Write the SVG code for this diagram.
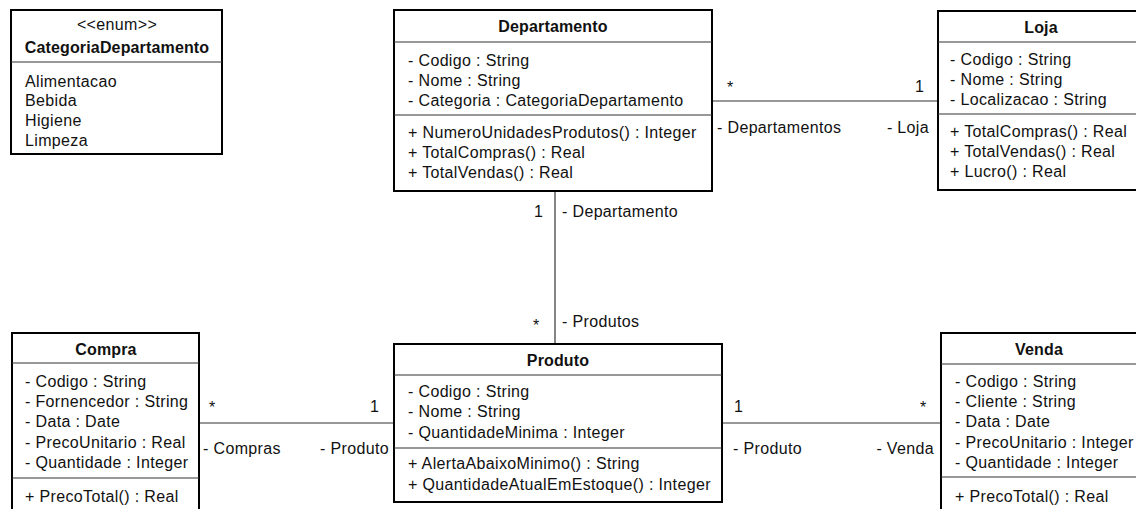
<svg xmlns="http://www.w3.org/2000/svg" width="1136" height="509" viewBox="0 0 1136 509">
  <style>
    text { font-family: "Liberation Sans", Arial, sans-serif; font-size: 16px; letter-spacing: 0.35px; fill: #111; }
    .title { font-weight: bold; text-anchor: middle; letter-spacing: 0.15px; }
    .stereo { text-anchor: middle; }
    .end { text-anchor: end; }
    .box { fill: #fff; stroke: #000; stroke-width: 2; }
    .div { stroke: #333; stroke-width: 1.2; }
    .conn line { stroke: #333; stroke-width: 1.2; }
  </style>

  <!-- associations -->
  <g id="connectors" class="conn">
    <line x1="713" y1="101" x2="937" y2="101"/>
    <line x1="555" y1="192" x2="555" y2="343"/>
    <line x1="200" y1="423" x2="393" y2="423"/>
    <line x1="723" y1="423" x2="940" y2="423"/>
    <text x="727" y="93">*</text>
    <text x="915" y="92">1</text>
    <text x="717" y="133">- Departamentos</text>
    <text x="929" y="133" class="end">- Loja</text>
    <text x="534" y="217">1</text>
    <text x="562" y="217">- Departamento</text>
    <text x="533" y="331">*</text>
    <text x="562" y="327">- Produtos</text>
    <text x="209" y="413">*</text>
    <text x="370" y="412">1</text>
    <text x="203" y="454">- Compras</text>
    <text x="389" y="454" class="end">- Produto</text>
    <text x="734" y="412">1</text>
    <text x="920" y="413">*</text>
    <text x="733" y="454">- Produto</text>
    <text x="934" y="454" class="end">- Venda</text>
  </g>

  <!-- enumeration -->
  <g id="CategoriaDepartamento">
    <rect class="box" x="11" y="10" width="211" height="144"/>
    <line class="div" x1="11" y1="62" x2="222" y2="62"/>
    <text x="117" y="30" class="stereo">&lt;&lt;enum&gt;&gt;</text>
    <text x="117" y="53" class="title">CategoriaDepartamento</text>
    <text x="25" y="87">Alimentacao</text>
    <text x="25" y="106">Bebida</text>
    <text x="25" y="126">Higiene</text>
    <text x="25" y="146">Limpeza</text>
  </g>

  <g id="Departamento">
    <rect class="box" x="394" y="10" width="318" height="181"/>
    <line class="div" x1="394" y1="42" x2="712" y2="42"/>
    <line class="div" x1="394" y1="115" x2="712" y2="115"/>
    <text x="553" y="32" class="title">Departamento</text>
    <text x="408" y="66">- Codigo : String</text>
    <text x="408" y="86">- Nome : String</text>
    <text x="408" y="106">- Categoria : CategoriaDepartamento</text>
    <text x="408" y="138">+ NumeroUnidadesProdutos() : Integer</text>
    <text x="408" y="158">+ TotalCompras() : Real</text>
    <text x="408" y="178">+ TotalVendas() : Real</text>
  </g>

  <g id="Loja">
    <rect class="box" x="938" y="11" width="210" height="179"/>
    <line class="div" x1="938" y1="42" x2="1148" y2="42"/>
    <line class="div" x1="938" y1="114" x2="1148" y2="114"/>
    <text x="1041" y="33" class="title">Loja</text>
    <text x="950" y="65">- Codigo : String</text>
    <text x="950" y="85">- Nome : String</text>
    <text x="950" y="105">- Localizacao : String</text>
    <text x="950" y="137">+ TotalCompras() : Real</text>
    <text x="950" y="157">+ TotalVendas() : Real</text>
    <text x="950" y="177">+ Lucro() : Real</text>
  </g>

  <g id="Compra">
    <rect class="box" x="12" y="333" width="187" height="200"/>
    <line class="div" x1="12" y1="363" x2="199" y2="363"/>
    <line class="div" x1="12" y1="478" x2="199" y2="478"/>
    <text x="106" y="355" class="title">Compra</text>
    <text x="25" y="387">- Codigo : String</text>
    <text x="25" y="407">- Fornencedor : String</text>
    <text x="25" y="427">- Data : Date</text>
    <text x="25" y="448">- PrecoUnitario : Real</text>
    <text x="25" y="468">- Quantidade : Integer</text>
    <text x="25" y="502">+ PrecoTotal() : Real</text>
  </g>

  <g id="Produto">
    <rect class="box" x="394" y="344" width="328" height="158"/>
    <line class="div" x1="394" y1="375" x2="722" y2="375"/>
    <line class="div" x1="394" y1="448" x2="722" y2="448"/>
    <text x="558" y="366" class="title">Produto</text>
    <text x="408" y="397">- Codigo : String</text>
    <text x="408" y="417">- Nome : String</text>
    <text x="408" y="438">- QuantidadeMinima : Integer</text>
    <text x="408" y="469">+ AlertaAbaixoMinimo() : String</text>
    <text x="408" y="490">+ QuantidadeAtualEmEstoque() : Integer</text>
  </g>

  <g id="Venda">
    <rect class="box" x="941" y="333" width="210" height="200"/>
    <line class="div" x1="941" y1="364" x2="1151" y2="364"/>
    <line class="div" x1="941" y1="477" x2="1151" y2="477"/>
    <text x="1039" y="355" class="title">Venda</text>
    <text x="955" y="387">- Codigo : String</text>
    <text x="955" y="407">- Cliente : String</text>
    <text x="955" y="427">- Data : Date</text>
    <text x="955" y="448">- PrecoUnitario : Integer</text>
    <text x="955" y="468">- Quantidade : Integer</text>
    <text x="955" y="502">+ PrecoTotal() : Real</text>
  </g>
</svg>
